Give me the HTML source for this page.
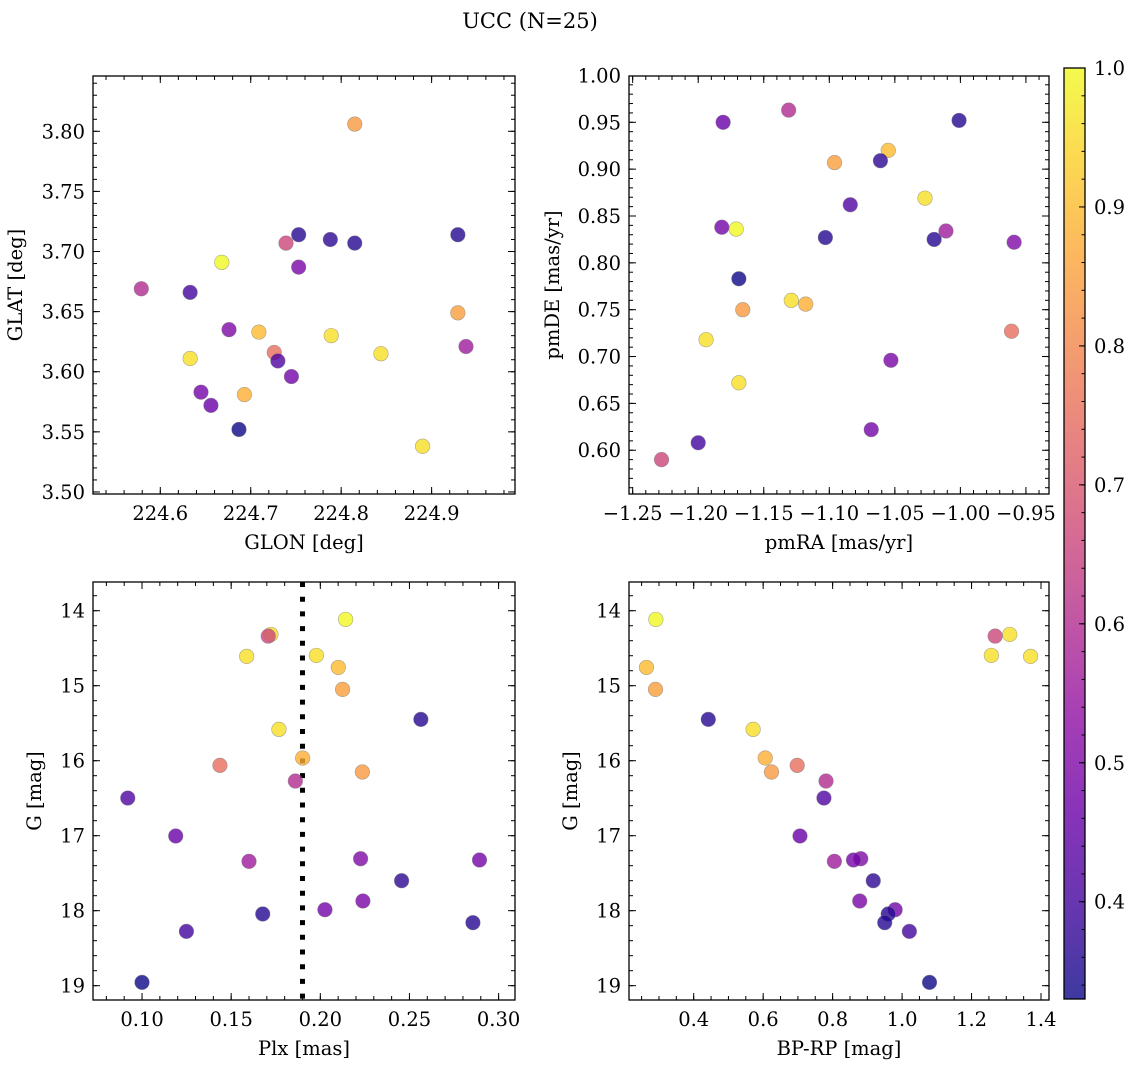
<!DOCTYPE html>
<html><head><meta charset="utf-8"><title>UCC (N=25)</title>
<style>
html,body{margin:0;padding:0;background:#fff;}
svg{display:block;font-family:"DejaVu Serif","Liberation Serif",serif;}
</style></head>
<body>
<svg id="fig" width="1136" height="1068" viewBox="0 0 1136 1068" xmlns="http://www.w3.org/2000/svg">
<text x="530" y="28" font-size="21" text-anchor="middle">UCC (N=25)</text>
</svg>
<script>
const glon = [224.668,224.633,224.739,224.789,224.844,224.709,224.929,224.753,224.890,224.693,224.726,224.815,224.579,224.730,224.656,224.938,224.676,224.645,224.788,224.753,224.745,224.815,224.929,224.633,224.687];
const glat = [3.691,3.611,3.707,3.630,3.615,3.633,3.649,3.714,3.538,3.581,3.616,3.806,3.669,3.609,3.572,3.621,3.635,3.583,3.710,3.687,3.596,3.707,3.714,3.666,3.552];
const pmra = [-1.171,-1.194,-1.228,-1.027,-1.129,-1.055,-1.096,-1.001,-1.169,-1.118,-0.961,-1.166,-1.131,-1.084,-1.181,-1.011,-0.959,-1.182,-1.061,-1.053,-1.068,-1.103,-1.020,-1.200,-1.169];
const pmde = [0.836,0.718,0.590,0.869,0.760,0.920,0.907,0.952,0.672,0.756,0.727,0.750,0.963,0.862,0.950,0.834,0.822,0.838,0.909,0.696,0.622,0.827,0.825,0.608,0.783];
const plx = [0.2142,0.1723,0.1708,0.1587,0.1978,0.2101,0.2125,0.2564,0.1768,0.1901,0.1437,0.2236,0.1860,0.0920,0.1189,0.1600,0.2226,0.2893,0.2456,0.2239,0.2026,0.1677,0.2856,0.1249,0.1000];
const gmag = [14.116,14.316,14.338,14.609,14.596,14.756,15.049,15.449,15.582,15.964,16.062,16.151,16.271,16.498,17.004,17.342,17.307,17.324,17.600,17.871,17.987,18.044,18.160,18.276,18.956];
const bprp = [0.291,1.310,1.268,1.370,1.257,0.264,0.290,0.442,0.571,0.606,0.698,0.624,0.781,0.775,0.706,0.805,0.881,0.860,0.917,0.878,0.980,0.960,0.950,1.021,1.079];
const prob = [1.00,0.96,0.66,0.96,0.96,0.90,0.85,0.36,0.96,0.88,0.75,0.84,0.60,0.42,0.46,0.56,0.50,0.48,0.37,0.49,0.48,0.36,0.36,0.40,0.33];
const plxLine = 0.19;

const ticksGlon = ["224.6","224.7","224.8","224.9"];
const ticksGlat = ["3.50","3.55","3.60","3.65","3.70","3.75","3.80"];
const ticksPmra = ["-1.25","-1.20","-1.15","-1.10","-1.05","-1.00","-0.95"];
const ticksPmde = ["0.60","0.65","0.70","0.75","0.80","0.85","0.90","0.95","1.00"];
const ticksPlx = ["0.10","0.15","0.20","0.25","0.30"];
const ticksG = ["14","15","16","17","18","19"];
const ticksBp = ["0.4","0.6","0.8","1.0","1.2","1.4"];
const ticksCb = ["0.4","0.5","0.6","0.7","0.8","0.9","1.0"];

const FS = 19.5;
const NS = "http://www.w3.org/2000/svg";
const svg = document.getElementById('fig');
function mk(tag, attrs, parent){
  const e = document.createElementNS(NS, tag);
  for (const k in attrs) e.setAttribute(k, attrs[k]);
  (parent||svg).appendChild(e);
  return e;
}
const stops=[[13,8,135],[65,4,157],[106,0,168],[143,13,164],[177,42,144],[204,71,120],[225,100,98],[242,132,75],[252,166,54],[252,206,37],[240,249,33]];
function plasma(t){
  t=Math.max(0,Math.min(1,t));
  const f=t*10, i=Math.min(9,Math.floor(f)), r=f-i;
  const a=stops[i], b=stops[i+1];
  return 'rgb('+a.map((v,k)=>Math.round(v+(b[k]-v)*r)).join(',')+')';
}
const vmin = Math.min(...prob), vmax = Math.max(...prob);
function lin(d0,d1,r0,r1){return v=>r0+(v-d0)/(d1-d0)*(r1-r0);}
function fmt(s){return s.replace('-','\u2212');}

function panel(o){
  const g = mk('g',{});
  
  
  const X = lin(o.xd[0],o.xd[1],o.L,o.R), Y = lin(o.yd[0],o.yd[1],o.B,o.T);
  const tg = mk('g',{stroke:'#000','stroke-width':1},g);
  
  
  function xt(v,len){const x=X(v); if(x<o.L-0.5||x>o.R+0.5) return;
    mk('line',{x1:x,x2:x,y1:o.B,y2:o.B-len},tg); mk('line',{x1:x,x2:x,y1:o.T,y2:o.T+len},tg);}
  function yt(v,len){const y=Y(v); if(y<o.T-0.5||y>o.B+0.5) return;
    mk('line',{x1:o.L,x2:o.L+len,y1:y,y2:y},tg); mk('line',{x1:o.R,x2:o.R-len,y1:y,y2:y},tg);}
  const xs=Math.ceil(o.xd[0]/o.xminor), xe=Math.floor(o.xd[1]/o.xminor);
  for(let i=xs;i<=xe;i++) xt(i*o.xminor,4);
  const lo=Math.min(o.yd[0],o.yd[1]), hi=Math.max(o.yd[0],o.yd[1]);
  for(let i=Math.ceil(lo/o.yminor);i<=Math.floor(hi/o.yminor);i++) yt(i*o.yminor,4);
  o.xticks.forEach(s=>{const v=parseFloat(s); xt(v,7);
    const t=mk('text',{x:X(v),y:o.B+26,'font-size':FS,'text-anchor':'middle'},g); t.textContent=fmt(s);
    
    });
  o.yticks.forEach(s=>{const v=parseFloat(s); yt(v,7);
    const t=mk('text',{x:o.L-8,y:Y(v)+7,'font-size':FS,'text-anchor':'end'},g); t.textContent=fmt(s);
    
    });
  const xl=mk('text',{x:(o.L+o.R)/2,y:o.B+55,'font-size':FS,'text-anchor':'middle'},g); xl.textContent=o.xlabel;
  
  
  const yl=mk('text',{x:0,y:0,'font-size':FS,'text-anchor':'middle',transform:'translate('+o.ylx+','+((o.T+o.B)/2)+') rotate(-90)'},g); yl.textContent=o.ylabel;
  
  
  if(o.vline!==undefined){
    const ln=mk('line',{x1:X(o.vline),x2:X(o.vline),y1:o.T,y2:o.B,stroke:'#000','stroke-width':5,'stroke-dasharray':'5 9.7'},g);
    
    
  }
  const pg=mk('g',{},g);
  
  
  o.xv.forEach((xv,i)=>{
    const c=mk('circle',{cx:X(xv),cy:Y(o.yv[i]),r:7.3,fill:plasma((prob[i]-vmin)/(vmax-vmin)),'fill-opacity':0.8,stroke:'#777','stroke-opacity':0.6,'stroke-width':0.6},pg);
    
    
  });
  const fr=mk('rect',{x:o.L,y:o.T,width:o.R-o.L,height:o.B-o.T,fill:'none',stroke:'#000','stroke-width':1.3},g);
  
  
}

panel({name:'glon-glat-panel',L:93,R:515,T:76,B:494,xd:[224.5256,224.9922],yd:[3.4983,3.846],xminor:0.02,yminor:0.01,
  xticks:ticksGlon,yticks:ticksGlat,xlabel:'GLON [deg]',ylabel:'GLAT [deg]',ylx:22,xv:glon,yv:glat});
panel({name:'pm-panel',L:629,R:1049,T:76,B:494,xd:[-1.2528,-0.9324],yd:[0.5533,0.9994],xminor:0.01,yminor:0.01,
  xticks:ticksPmra,yticks:ticksPmde,xlabel:'pmRA [mas/yr]',ylabel:'pmDE [mas/yr]',ylx:559,xv:pmra,yv:pmde});
panel({name:'plx-g-panel',L:93,R:515,T:582,B:1000,xd:[0.0725,0.3092],yd:[19.191,13.617],xminor:0.01,yminor:0.2,
  xticks:ticksPlx,yticks:ticksG,xlabel:'Plx [mas]',ylabel:'G [mag]',ylx:41,xv:plx,yv:gmag,vline:plxLine});
panel({name:'cmd-panel',L:629,R:1049,T:582,B:1000,xd:[0.2137,1.423],yd:[19.191,13.617],xminor:0.05,yminor:0.2,
  xticks:ticksBp,yticks:ticksG,xlabel:'BP-RP [mag]',ylabel:'G [mag]',ylx:577,xv:bprp,yv:gmag});

const cb=mk('g',{});


const defs=mk('defs',{},svg);
const lg=mk('linearGradient',{id:'plasmaGrad',x1:0,y1:1,x2:0,y2:0},defs);
for(let i=0;i<=20;i++){mk('stop',{offset:i/20,'stop-color':plasma(i/20)},lg);}
const CT=68,CB=999,CL=1064,CR=1085;
const cr=mk('rect',{x:CL,y:CT,width:CR-CL,height:CB-CT,fill:'url(#plasmaGrad)','fill-opacity':0.8},cb);


const CY=lin(vmin,vmax,CB,CT);
for(let i=Math.ceil(vmin/0.02);i<=Math.floor(vmax/0.02+1e-9);i++){const y=CY(i*0.02); mk('line',{x1:CR,x2:CR-3.5,y1:y,y2:y,stroke:'#000','stroke-width':1},cb);}
ticksCb.forEach(s=>{const v=parseFloat(s),y=CY(v); if(y<CT-1||y>CB+1) return;
  mk('line',{x1:CR,x2:CR-6,y1:y,y2:y,stroke:'#000','stroke-width':1},cb);
  const t=mk('text',{x:CR+9,y:y+7,'font-size':FS},cb); t.textContent=s;
  
  });
const cf=mk('rect',{x:CL,y:CT,width:CR-CL,height:CB-CT,fill:'none',stroke:'#000','stroke-width':1.3},cb);


</script>
</body></html>
